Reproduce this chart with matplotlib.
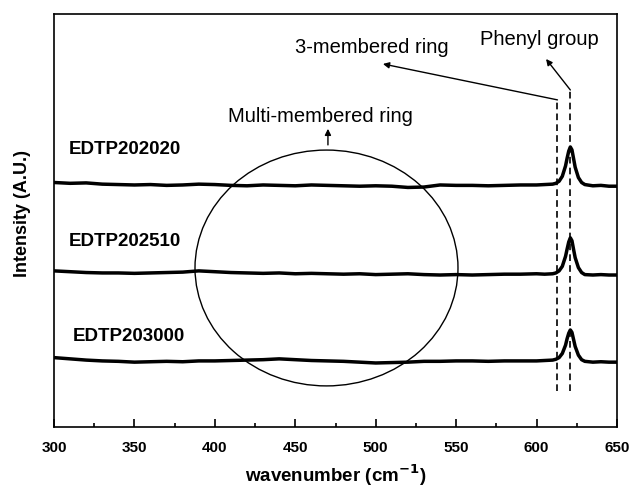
import matplotlib
matplotlib.use("Agg")
import matplotlib.pyplot as plt
from matplotlib.patches import Ellipse
from matplotlib.ticker import MultipleLocator

plt.rcParams['font.family'] = ['Liberation Sans', 'DejaVu Sans']

# wavenumber grid (cm-1), denser near the 621 peak
wavenumber = [300, 310, 320, 330, 340, 350, 360, 370, 380, 390,
              400, 410, 420, 430, 440, 450, 460, 470, 480, 490,
              500, 510, 520, 530, 540, 550, 560, 570, 580, 590,
              600, 605, 610, 612, 614, 616, 618, 619, 620, 621,
              622, 623, 624, 626, 628, 630, 635, 640, 645, 650]

# intensity (A.U.), offset traces
edtp202020 = [59.2, 59.0, 59.1, 58.8, 58.7, 58.6, 58.7, 58.5, 58.6, 58.8,
              58.7, 58.5, 58.4, 58.6, 58.5, 58.4, 58.6, 58.5, 58.4, 58.3,
              58.4, 58.3, 58.0, 58.1, 58.6, 58.5, 58.5, 58.4, 58.5, 58.6,
              58.6, 58.7, 58.8, 59.0, 59.5, 60.7, 63.2, 65.1, 66.8, 67.8,
              67.1, 65.0, 62.9, 60.4, 59.2, 58.7, 58.4, 58.5, 58.3, 58.3]
edtp202510 = [37.8, 37.6, 37.4, 37.3, 37.3, 37.2, 37.3, 37.4, 37.5, 37.8,
              37.6, 37.4, 37.3, 37.2, 37.3, 37.1, 37.2, 37.1, 37.0, 37.1,
              36.9, 37.0, 37.1, 36.9, 36.8, 36.9, 36.8, 36.9, 37.0, 37.0,
              37.1, 37.0, 37.1, 37.3, 37.8, 38.9, 41.3, 43.1, 44.8, 45.8,
              45.1, 43.0, 41.0, 38.6, 37.4, 36.9, 36.8, 36.9, 36.8, 36.8]
edtp203000 = [16.8, 16.5, 16.2, 16.0, 15.9, 15.7, 15.8, 15.9, 15.8, 16.0,
              16.0, 16.1, 16.2, 16.3, 16.5, 16.3, 16.1, 16.0, 15.9, 15.7,
              15.5, 15.6, 15.7, 15.9, 15.9, 16.0, 16.0, 15.9, 16.0, 16.0,
              16.0, 16.1, 16.2, 16.4, 16.8, 17.8, 19.8, 21.4, 22.7, 23.5,
              22.9, 21.2, 19.5, 17.4, 16.3, 15.9, 15.7, 15.8, 15.7, 15.7]

traces = [edtp202020, edtp202510, edtp203000]
names = ['EDTP202020', 'EDTP202510', 'EDTP203000']
name_pos = [(309.3, 67.1), (309.3, 44.8), (311.8, 21.8)]

# create the graph
fig = plt.figure(figsize=(6.31, 4.87), dpi=100)
ax = fig.add_axes([0.0856, 0.1232, 0.8922, 0.8481])

for y in traces:
    ax.plot(wavenumber, y, color='black', lw=2.5, solid_capstyle='butt')

for n, (tx, ty) in zip(names, name_pos):
    ax.text(tx, ty, n, fontsize=13.5, fontweight='bold', ha='left', va='center')

# dashed markers for the 3-membered ring and phenyl group bands
ax.plot([613, 613], [8.7, 79.2], color='black', lw=1.2, dashes=(4, 2.5))
ax.plot([621, 621], [8.7, 81.6], color='black', lw=1.2, dashes=(4, 2.5))

ax.annotate('', xy=(504.5, 87.9), xytext=(613, 79.2),
            arrowprops=dict(arrowstyle='-|>', color='black', lw=1.0,
                            mutation_scale=9, shrinkA=0, shrinkB=0))
ax.annotate('', xy=(605.9, 89.1), xytext=(621, 81.6),
            arrowprops=dict(arrowstyle='-|>', color='black', lw=1.0,
                            mutation_scale=9, shrinkA=0, shrinkB=0))
ax.annotate('', xy=(470.3, 72.2), xytext=(470.3, 68.3),
            arrowprops=dict(arrowstyle='-|>', color='black', lw=1.0,
                            mutation_scale=9, shrinkA=0, shrinkB=0))

ax.text(497.7, 92.0, '3-membered ring', fontsize=14.5, ha='center', va='center')
ax.text(601.5, 93.9, 'Phenyl group', fontsize=14.5, ha='center', va='center')
ax.text(465.4, 75.1, 'Multi-membered ring', fontsize=14.5, ha='center', va='center')

ax.add_patch(Ellipse((469.4, 38.5), 163.5, 57.1, fill=False, ec='black', lw=1.0))

ax.set_xlim(300, 650)
ax.set_ylim(0, 100)
ax.set_yticks([])
ax.xaxis.set_major_locator(MultipleLocator(50))
ax.xaxis.set_minor_locator(MultipleLocator(25))
ax.tick_params(axis='x', which='major', direction='in', length=6, width=1.2,
               pad=10, labelsize=11)
ax.tick_params(axis='x', which='minor', direction='in', length=3, width=1.2)
for lab in ax.get_xticklabels():
    lab.set_fontweight('bold')
for s in ax.spines.values():
    s.set_linewidth(1.2)

ax.set_xlabel('wavenumber (cm$^{\\mathbf{-1}}$)', fontsize=13.5, fontweight='bold')
ax.set_ylabel('Intensity (A.U.)', fontsize=13, fontweight='bold')
ax.xaxis.set_label_coords(0.5, -0.085)
ax.yaxis.set_label_coords(-0.041, 0.518)

plt.savefig('out.png', dpi=100)
